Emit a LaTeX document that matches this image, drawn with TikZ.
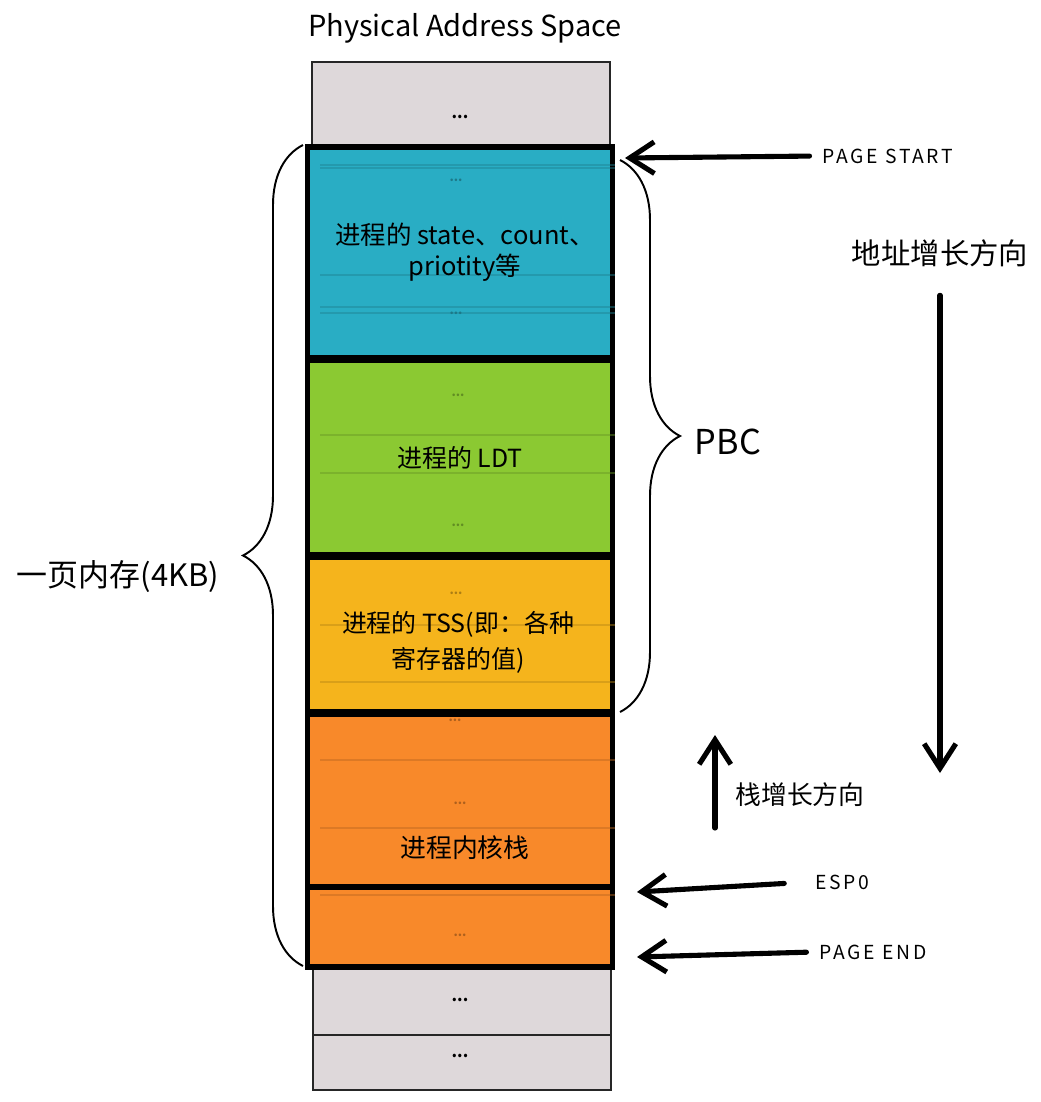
\documentclass[tikz,border=0pt]{standalone}
\usepackage{fontspec}
\setmainfont{Noto Sans CJK SC}
\newfontfamily\notefont[LetterSpace=14]{Noto Sans CJK SC}
\usepackage{tikz}
\usetikzlibrary{arrows.meta, decorations.pathreplacing}
\definecolor{memgray}{HTML}{DED8DA}
\definecolor{pcbblue}{HTML}{29ADC4}
\definecolor{ldtgreen}{HTML}{8BC932}
\definecolor{tssyellow}{HTML}{F5B41C}
\definecolor{stackorange}{HTML}{F8892A}
\tikzstyle{blk}=[draw=black,line width=3.2pt,minimum width=6.1cm,inner sep=0pt]
\tikzstyle{freeblk}=[draw=black!85,line width=0.7pt,fill=memgray,minimum width=5.96cm,inner sep=0pt]
\tikzstyle{arr}=[-{Straight Barb[length=14pt,width=18pt]},line width=2.9pt,line cap=round]
\tikzstyle{brc}=[decorate,decoration={brace,amplitude=1.2cm},line width=1.1pt]
\tikzstyle{faint}=[line width=0.6pt,opacity=0.45]

\begin{document}
\begin{tikzpicture}
  \useasboundingbox (0,0) rectangle (20.82,-22.04);
  % free memory around the page
  \node[freeblk,minimum height=1.66cm] (above) at (9.22,-2.07) {};
  \node[freeblk,minimum height=1.36cm] (below1) at (9.24,-20.02) {};
  \node[freeblk,minimum height=1.1cm] (below2) at (9.24,-21.25) {};
  \foreach \n/\y in {above/-2.34, below1/-20.0, below2/-21.12}
    \node[font=\small\bfseries] at (9.2,\y) {...};
  % the 4KB page
  \foreach \n/\y/\h/\c in {pcb/-5.05/4.22/pcbblue, ldt/-9.15/3.9/ldtgreen, tss/-12.69/3.1/tssyellow, kstk/-16.01/3.46/stackorange, kbot/-18.54/1.6/stackorange} {
    \node[blk,fill=\c,minimum height=\h cm] (\n) at (9.2,\y) {};
  }
  \foreach \y/\c in {-3.3/pcbblue, -3.36/pcbblue, -5.5/pcbblue, -6.14/pcbblue, -6.26/pcbblue, -8.7/ldtgreen, -9.46/ldtgreen, -12.5/tssyellow, -13.64/tssyellow, -15.2/stackorange, -16.56/stackorange, -17.9/stackorange}
    \draw[faint,\c!75!black] (6.4,\y) -- (12.3,\y);
  \foreach \x/\y/\c in {9.12/-3.6/pcbblue, 9.12/-6.26/pcbblue, 9.16/-7.9/ldtgreen, 9.16/-10.5/ldtgreen, 9.12/-11.86/tssyellow, 9.1/-14.4/stackorange, 9.2/-16.06/stackorange, 9.2/-18.7/stackorange}
    \node[font=\scriptsize\bfseries,text=\c!70!black] at (\x,\y) {...};
  \node[font=\fontsize{14.5}{17.6}\selectfont,align=center] (pcbtxt) at (9.3,-5.04) {进程的 state、count、\\priotity等};
  \node[font=\fontsize{14.2}{17.6}\selectfont] (ldttxt) at (9.2,-9.16) {进程的 LDT};
  \node[font=\fontsize{14.2}{20.4}\selectfont,align=center] (tsstxt) at (9.16,-12.84) {进程的 TSS(即：各种\\寄存器的值)};
  \node[font=\fontsize{14.7}{18}\selectfont] (kstktxt) at (9.3,-16.96) {进程内核栈};
  \node[font=\fontsize{16.5}{19}\selectfont] (title) at (9.3,-0.56) {Physical Address Space};
  % braces
  \coordinate (pagetop) at (6.06,-2.9);
  \coordinate (pagebot) at (6.06,-19.32);
  \coordinate (pbctop) at (12.4,-3.2);
  \coordinate (pbcbot) at (12.4,-14.24);
  \draw[brc] (pagebot) -- (pagetop);
  \draw[brc] (pbctop) -- (pbcbot);
  \node[font=\fontsize{17.6}{20}\selectfont] (pagelbl) at (2.36,-11.54) {一页内存(4KB)};
  \node[font=\fontsize{19.5}{22}\selectfont] (pbclbl) at (14.56,-8.84) {PBC};
  % pointers into the page
  \node[font=\notefont\fontsize{11}{13}\selectfont] (startlbl) at (17.76,-3.12) {PAGE START};
  \node[font=\notefont\fontsize{11}{13}\selectfont] (esplbl) at (16.84,-17.64) {ESP0};
  \node[font=\notefont\fontsize{11}{13}\selectfont] (endlbl) at (17.46,-19.04) {PAGE END};
  \coordinate (startpt) at (12.5,-3.16);
  \coordinate (esppt) at (12.74,-17.84);
  \coordinate (endpt) at (12.74,-19.14);
  \draw[arr,shorten <=4pt] (startlbl.west) -- (startpt);
  \draw[arr,shorten <=14pt] (esplbl.west) -- (esppt);
  \draw[arr,shorten <=4pt] (endlbl.west) -- (endpt);
  % growth directions
  \node[font=\fontsize{16.7}{20}\selectfont] (addrlbl) at (18.8,-5.06) {地址增长方向};
  \coordinate (addrend) at (18.8,-15.46);
  \draw[arr] ([yshift=-0.45cm]addrlbl.south) -- (addrend);
  \node[font=\fontsize{14.7}{18}\selectfont] (stklbl) at (16.0,-15.9) {栈增长方向};
  \coordinate (stkfrom) at (14.3,-16.56);
  \coordinate (stkto) at (14.3,-14.7);
  \draw[arr] (stkfrom) -- (stkto);
\end{tikzpicture}
\end{document}
